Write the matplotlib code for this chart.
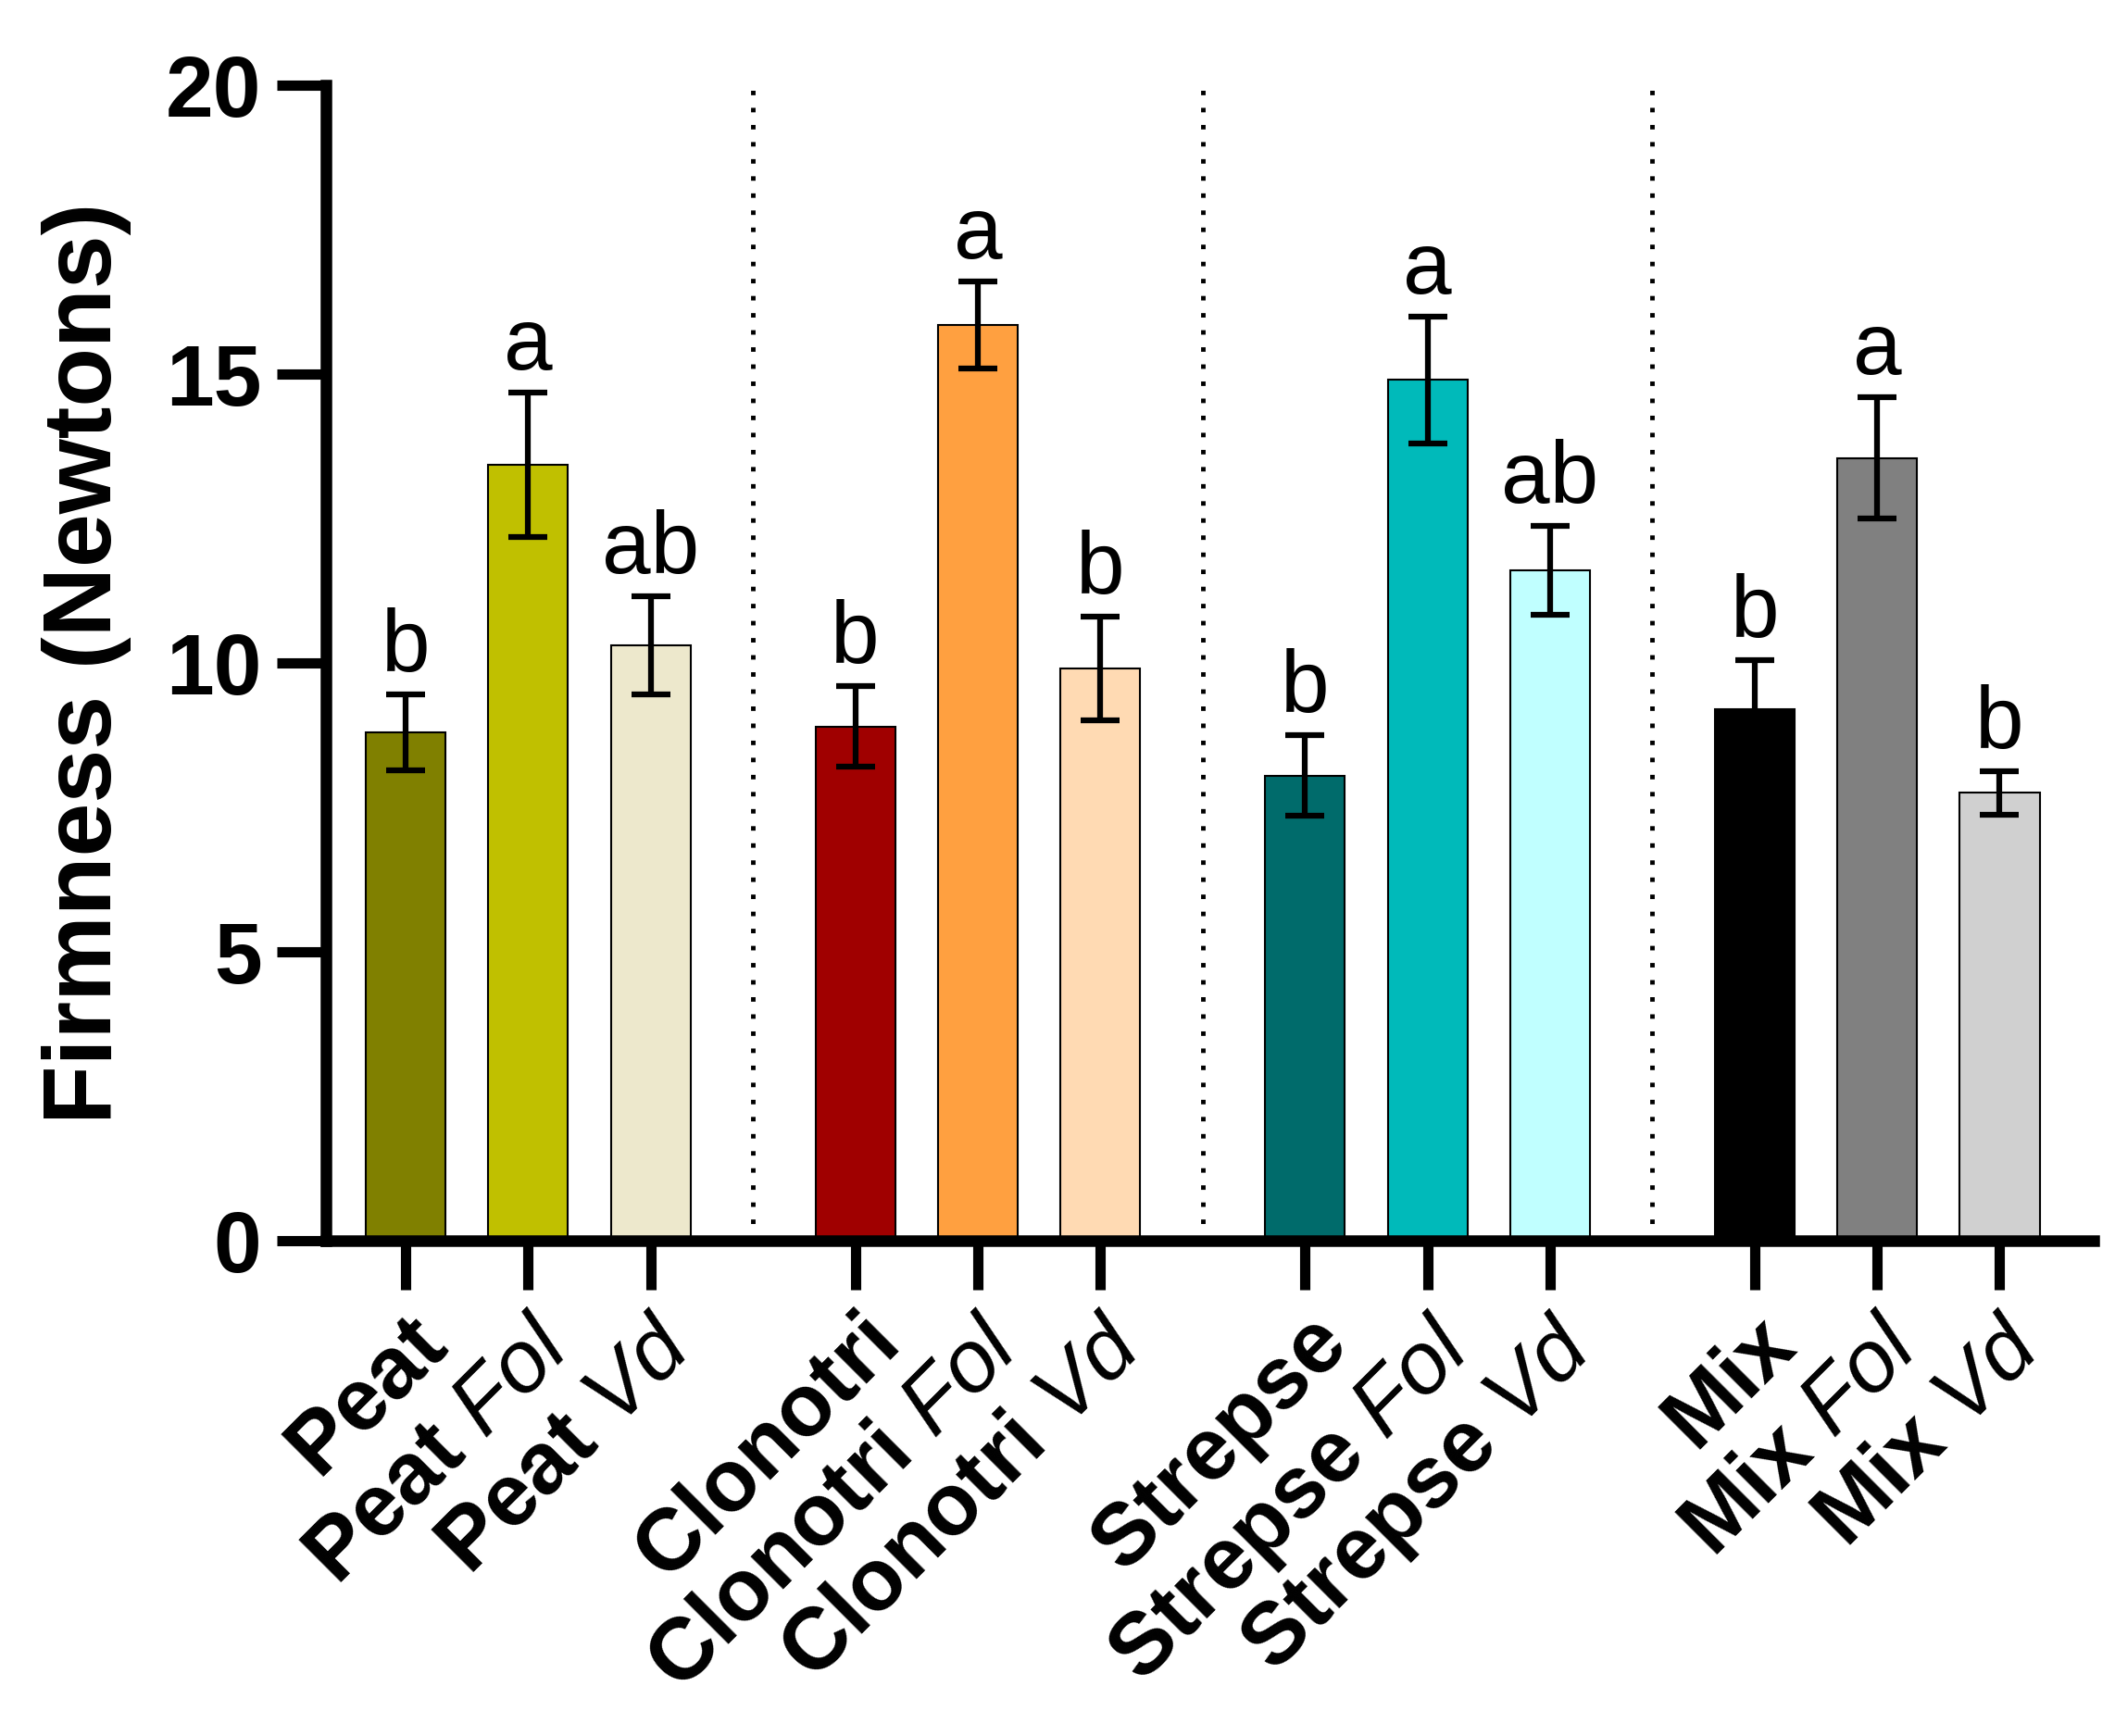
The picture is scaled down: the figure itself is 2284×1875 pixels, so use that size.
import matplotlib
matplotlib.use("Agg")
import matplotlib.pyplot as plt
import numpy as np

# data
substrates = ["Peat", "Clonotri", "Strepse", "Mix"]
treatments = ["", "Fol", "Vd"]
firmness = [8.8, 13.43, 10.3,
            8.9, 15.85, 9.9,
            8.05, 14.9, 11.6,
            9.2, 13.55, 7.75]
sem = [0.65, 1.25, 0.85,
       0.7, 0.75, 0.9,
       0.7, 1.1, 0.77,
       0.85, 1.05, 0.37]
letters = ["b", "a", "ab",
           "b", "a", "b",
           "b", "a", "ab",
           "b", "a", "b"]
colors = ["#808000", "#C0C000", "#EDE8CC",
          "#A00000", "#FFA040", "#FFDAB3",
          "#006B6B", "#00BABA", "#C0FFFF",
          "#000000", "#808080", "#D0D0D0"]

plt.rcParams['font.family'] = ['Liberation Sans', 'DejaVu Sans']
plt.rcParams['mathtext.fontset'] = 'custom'
plt.rcParams['mathtext.rm'] = 'Liberation Sans'
plt.rcParams['mathtext.it'] = 'Liberation Sans:italic'
plt.rcParams['mathtext.bf'] = 'Liberation Sans:bold'

group_step = 3.67
x = []
labels = []
for g, s in enumerate(substrates):
  for t_i, t in enumerate(treatments):
    x.append(g * group_step + t_i)
    if t == "":
      labels.append(r"$\mathbf{%s}$" % s)
    else:
      labels.append(r"$\mathbf{%s}\ \mathit{%s}$" % (s, t))
x = np.array(x)

fig = plt.figure(figsize=(22.84, 18.75), dpi=100)
ax = fig.add_axes([0.1541, 0.2853, 0.836, 0.6656])

ax.bar(x, firmness, width=0.65, color=colors, edgecolor="black", linewidth=1.5, zorder=2)
ax.errorbar(x, firmness, yerr=sem, fmt="none", ecolor="black", elinewidth=4.5,
            capsize=15, capthick=4.5, zorder=3)

for xi, v, e, l in zip(x, firmness, sem, letters):
  ax.annotate(l, (xi, v + e), xytext=(0, 18), textcoords="offset points",
              ha="center", va="baseline", fontsize=68)

# dotted separators between substrate groups
for g in range(1, len(substrates)):
  xs = (x[3 * g - 1] + x[3 * g]) / 2
  ax.axvline(xs, color="black", linestyle=(0, (1, 2.8)), linewidth=3.5, zorder=1)

ax.set_xlim(-0.65, x[-1] + 0.77)
ax.set_ylim(0, 20)
ax.set_yticks([0, 5, 10, 15, 20])
ax.set_xticks(x)
ax.set_xticklabels(labels, rotation=45, ha="right", va="top", rotation_mode="anchor",
                   fontsize=68)

for side in ["top", "right"]:
  ax.spines[side].set_visible(False)
for side in ["left", "bottom"]:
  ax.spines[side].set_linewidth(9)
ax.tick_params(axis="both", length=38, width=8, pad=12)
ax.tick_params(axis="y", labelsize=67)
for t in ax.get_yticklabels():
  t.set_fontweight("bold")

ax.set_ylabel("Firmness (Newtons)", fontsize=75, fontweight="bold")
ax.yaxis.set_label_coords(-0.11, 0.5)

fig.savefig("out.png", dpi=100)
